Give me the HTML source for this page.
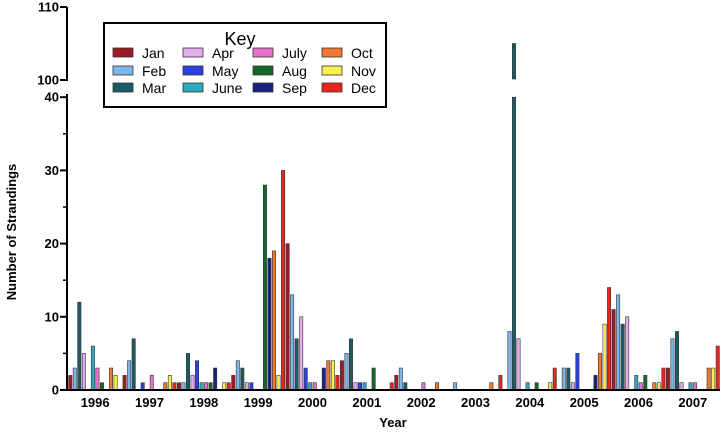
<!DOCTYPE html>
<html><head><meta charset="utf-8"><style>
html,body{margin:0;padding:0;background:#fff;}
svg{display:block;font-family:"Liberation Sans",Arial,sans-serif;}
</style></head><body>
<svg id="chart" width="724" height="432" viewBox="0 0 724 432">
<g id="bars"></g>
<g id="axes"></g>
<text x="0" y="0" transform="translate(16,232) rotate(-90)" text-anchor="middle" font-size="13" font-weight="bold">Number of Strandings</text>
<text x="393" y="427" text-anchor="middle" font-size="13" font-weight="bold">Year</text>
<g id="legend">
<rect x="104" y="23" width="282" height="84" fill="#fff" stroke="#000" stroke-width="2"></rect>
<text x="240" y="45" text-anchor="middle" font-size="18">Key</text>
</g>
</svg>
<script>
const years = ["1996","1997","1998","1999","2000","2001","2002","2003","2004","2005","2006","2007"];
const monthNames = ["Jan","Feb","Mar","Apr","May","June","July","Aug","Sep","Oct","Nov","Dec"];
const monthColors = ["#9b1c22","#7fb6ea","#1a5b66","#e4aaee","#2a40e0","#2eaabf","#e672cc","#15682a","#182080","#f07830","#f8f050","#e8261e"];
const v1996 = [2,3,12,5,0,6,3,1,0,3,2,0];
const v1997 = [2,4,7,0,1,0,2,0,0,1,2,1];
const v1998 = [1,1,5,2,4,1,1,1,3,0,1,1];
const v1999 = [2,4,3,1,1,0,0,28,18,19,2,30];
const v2000 = [20,13,7,10,3,1,1,0,3,4,4,2];
const v2001 = [4,5,7,1,1,1,0,3,0,0,0,1];
const v2002 = [2,3,1,0,0,0,1,0,0,1,0,0];
const v2003 = [0,1,0,0,0,0,0,0,0,1,0,2];
const v2004 = [0,8,105,7,0,1,0,1,0,0,1,3];
const v2005 = [0,3,3,1,5,0,0,0,2,5,9,14];
const v2006 = [11,13,9,10,0,2,1,2,0,1,1,3];
const v2007 = [3,7,8,1,0,1,1,0,0,3,3,6];
const lowTicks = [0,10,20,30,40];
const highTicks = [100,110];

const series = [v1996,v1997,v1998,v1999,v2000,v2001,v2002,v2003,v2004,v2005,v2006,v2007];
const NS = "http://www.w3.org/2000/svg";
const X0 = 68, X1 = 720, BASE = 390;
const monthW = (X1 - X0) / (years.length * 12);
function xMonth(i){ return X0 + i * monthW; }
function yLow(v){ return BASE - v * 7.32; }
function yHigh(v){ return 80 - (v - 100) * 7.3; }
function el(tag, attrs, parent){
  const e = document.createElementNS(NS, tag);
  for (const k in attrs) e.setAttribute(k, attrs[k]);
  parent.appendChild(e);
  return e;
}
const barsG = document.getElementById('bars');
const axesG = document.getElementById('axes');
const legendG = document.getElementById('legend');

series.forEach((vals, yi) => {
  vals.forEach((v, m) => {
    if (v <= 0) return;
    const x = xMonth(yi * 12 + m) + 0.6;
    const w = monthW - 1.2;
    if (v <= 40) {
      const r = el('rect', {x: x, y: yLow(v), width: w, height: BASE - yLow(v), fill: monthColors[m], stroke: '#333', 'stroke-width': 0.6}, barsG);
      
      
    } else {
      const r1 = el('rect', {x: x, y: yLow(40), width: w, height: BASE - yLow(40), fill: monthColors[m], stroke: '#333', 'stroke-width': 0.6}, barsG);
      
      
      const top = yHigh(v);
      const r2 = el('rect', {x: x, y: top, width: w, height: 79 - top, fill: monthColors[m], stroke: '#333', 'stroke-width': 0.6}, barsG);
      
      
    }
  });
});

const yAxisLow = el('line', {x1: 67, y1: 94, x2: 67, y2: BASE + 1, stroke: '#000', 'stroke-width': 2}, axesG);


const yAxisHigh = el('line', {x1: 67, y1: 7, x2: 67, y2: 81, stroke: '#000', 'stroke-width': 2}, axesG);


const xAxis = el('line', {x1: 66, y1: BASE, x2: X1, y2: BASE, stroke: '#000', 'stroke-width': 2}, axesG);



for (let v = 5; v < 40; v += 10) {
  const t = el('line', {x1: 63, y1: yLow(v), x2: 67, y2: yLow(v), stroke: '#000', 'stroke-width': 1.5}, axesG);
  
  
}
lowTicks.forEach(v => {
  const t = el('line', {x1: 60, y1: yLow(v), x2: 67, y2: yLow(v), stroke: '#000', 'stroke-width': 2}, axesG);
  
  
  const l = el('text', {x: 59, y: yLow(v) + 4.5, 'text-anchor': 'end', 'font-size': 13, 'font-weight': 'bold'}, axesG);
  l.textContent = String(v);
  
  
});
highTicks.forEach(v => {
  const t = el('line', {x1: 60, y1: yHigh(v), x2: 67, y2: yHigh(v), stroke: '#000', 'stroke-width': 2}, axesG);
  
  
  const l = el('text', {x: 59, y: yHigh(v) + 4.5, 'text-anchor': 'end', 'font-size': 13, 'font-weight': 'bold'}, axesG);
  l.textContent = String(v);
  
  
});
years.forEach((yr, i) => {
  const l = el('text', {x: xMonth(i * 12 + 6), y: 407, 'text-anchor': 'middle', 'font-size': 13, 'font-weight': 'bold'}, axesG);
  l.textContent = yr;
  
  
});

const colX = [113, 183, 253, 322];
const rowY = [53, 71, 88];
monthNames.forEach((name, m) => {
  const c = Math.floor(m / 3), r = m % 3;
  const g = el('g', {}, legendG);
  
  
  el('rect', {x: colX[c], y: rowY[r] - 5, width: 20, height: 9, fill: monthColors[m], stroke: '#333', 'stroke-width': 0.8}, g);
  const t = el('text', {x: colX[c] + 29, y: rowY[r] + 5, 'font-size': 14}, g);
  t.textContent = name;
});
</script>
</body></html>
